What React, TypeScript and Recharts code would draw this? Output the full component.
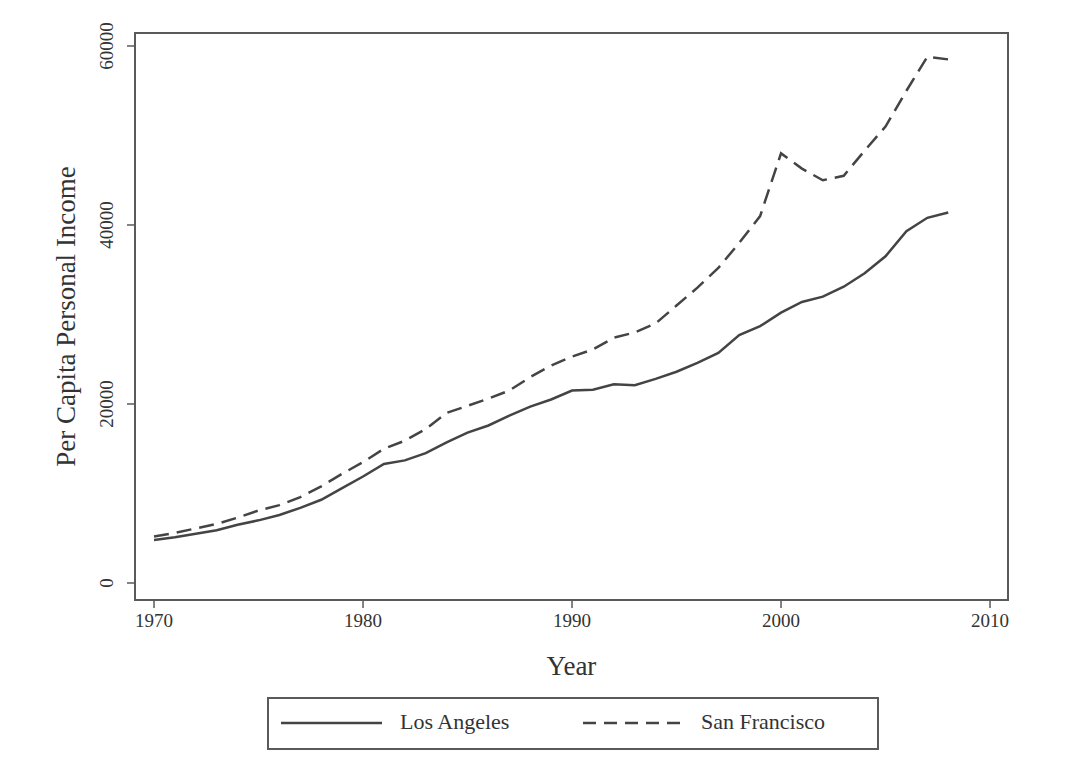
import React from 'react';
import { LineChart, Line, XAxis, YAxis, ReferenceArea } from 'recharts';

const years = [
  1970, 1971, 1972, 1973, 1974, 1975, 1976, 1977, 1978, 1979,
  1980, 1981, 1982, 1983, 1984, 1985, 1986, 1987, 1988, 1989,
  1990, 1991, 1992, 1993, 1994, 1995, 1996, 1997, 1998, 1999,
  2000, 2001, 2002, 2003, 2004, 2005, 2006, 2007, 2008,
];

const losAngeles = [
  4800, 5100, 5500, 5900, 6500, 7000, 7600, 8400, 9300, 10600,
  11900, 13300, 13700, 14500, 15700, 16800, 17600, 18700, 19700, 20500,
  21500, 21600, 22200, 22100, 22800, 23600, 24600, 25700, 27700, 28700,
  30200, 31400, 32000, 33100, 34600, 36500, 39300, 40800, 41400,
];

const sanFrancisco = [
  5200, 5600, 6100, 6600, 7300, 8100, 8700, 9600, 10800, 12200,
  13500, 15000, 15900, 17200, 19000, 19800, 20600, 21500, 23000, 24300,
  25300, 26100, 27400, 28000, 29000, 31000, 33000, 35200, 38000, 41000,
  48000, 46300, 45000, 45500, 48300, 51000, 55000, 58800, 58500,
];

const xTicks = [1970, 1980, 1990, 2000, 2010];
const yTicks = [0, 20000, 40000, 60000];

const xDomain: [number, number] = [1969.09, 2010.86];
const yDomain: [number, number] = [-1900, 61450];

const data = years.map((year, i) => ({
  year,
  la: losAngeles[i],
  sf: sanFrancisco[i],
}));

const FONT = '"Liberation Serif", "DejaVu Serif", serif';
const INK = '#444';
const FRAME = '#5a5a5a';

const YTick = (props: any) => {
  const { x, y, payload } = props;
  const tx = x - 12;
  return (
    <text
      x={tx}
      y={y}
      transform={`rotate(-90 ${tx} ${y})`}
      textAnchor="middle"
      fontFamily={FONT}
      fontSize={19}
      fill="#333"
    >
      {payload.value}
    </text>
  );
};

const App: React.FC = () => {
  return (
    <div style={{ position: 'absolute', left: 0, top: 0, width: 1080, height: 770, background: '#fff' }}>
      <LineChart
        width={1080}
        height={770}
        data={data}
        margin={{ top: 33, right: 72, left: 0, bottom: 40 }}
      >
        <XAxis
          dataKey="year"
          type="number"
          domain={xDomain}
          ticks={xTicks}
          height={130}
          axisLine={{ stroke: FRAME, strokeWidth: 2 }}
          tickLine={{ stroke: FRAME, strokeWidth: 1.5 }}
          tickSize={8}
          tick={{ fontFamily: FONT, fontSize: 19, fill: '#333' }}
          tickMargin={6}
          label={{ value: 'Year', position: 'center', fontFamily: FONT, fontSize: 27, fill: '#333' }}
        />
        <YAxis
          type="number"
          domain={yDomain}
          ticks={yTicks}
          width={135}
          axisLine={{ stroke: FRAME, strokeWidth: 2 }}
          tickLine={{ stroke: FRAME, strokeWidth: 1.5 }}
          tickSize={8}
          tick={<YTick />}
          label={{
            value: 'Per Capita Personal Income',
            angle: -90,
            position: 'center',
            dx: -2,
            fontFamily: FONT,
            fontSize: 27,
            fill: '#333',
          }}
        />
        <ReferenceArea
          x1={xDomain[0]}
          x2={xDomain[1]}
          y1={yDomain[0]}
          y2={yDomain[1]}
          fill="none"
          stroke={FRAME}
          strokeWidth={2}
          ifOverflow="extendDomain"
        />
        <Line
          dataKey="la"
          type="linear"
          stroke={INK}
          strokeWidth={2.5}
          dot={false}
          isAnimationActive={false}
        />
        <Line
          dataKey="sf"
          type="linear"
          stroke={INK}
          strokeWidth={2.5}
          strokeDasharray="15 8"
          dot={false}
          isAnimationActive={false}
        />
      </LineChart>
      <div
        style={{
          position: 'absolute',
          left: 267,
          top: 697,
          width: 608,
          height: 49,
          border: `2px solid ${FRAME}`,
          fontFamily: FONT,
          fontSize: 22,
          color: '#333',
        }}
      >
        <svg width={608} height={49} style={{ position: 'absolute', left: 0, top: 0 }}>
          <line x1={12} y1={24} x2={113} y2={24} stroke={INK} strokeWidth={2.5} />
          <line x1={314} y1={24} x2={414} y2={24} stroke={INK} strokeWidth={2.5} strokeDasharray="13 8" />
        </svg>
        <span style={{ position: 'absolute', left: 131, top: 10 }}>Los Angeles</span>
        <span style={{ position: 'absolute', left: 432, top: 10 }}>San Francisco</span>
      </div>
    </div>
  );
};

export default App;
